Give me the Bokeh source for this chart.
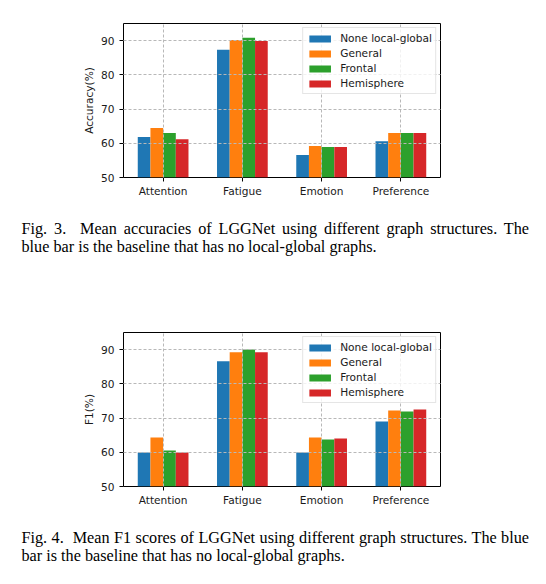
from bokeh.plotting import figure
from bokeh.models import (FactorRange, Range1d, FixedTicker, Legend, LegendItem,
                          ColumnDataSource, Div)
from bokeh.transform import dodge
from bokeh.layouts import column
from bokeh.embed import file_html
from bokeh.resources import INLINE

# ---------------- data ----------------
categories = ["Attention", "Fatigue", "Emotion", "Preference"]
series_names = ["None local-global", "General", "Frontal", "Hemisphere"]
colors = ["#1f77b4", "#ff7f0e", "#2ca02c", "#d62728"]

acc_none = [61.8, 87.3, 56.6, 60.6]
acc_general = [64.5, 90.2, 59.2, 63.0]
acc_frontal = [63.0, 90.8, 58.9, 63.0]
acc_hemisphere = [61.2, 89.9, 58.9, 63.0]

f1_none = [59.9, 86.6, 59.9, 69.0]
f1_general = [64.3, 89.2, 64.3, 72.2]
f1_frontal = [60.5, 90.0, 63.7, 71.9]
f1_hemisphere = [59.9, 89.2, 64.0, 72.5]

y_ticks = [50, 60, 70, 80, 90]

caption1_line1 = "Fig. 3.&nbsp; Mean accuracies of LGGNet using different graph structures. The"
caption1_line2 = "blue bar is the baseline that has no local-global graphs."
caption2_line1 = "Fig. 4.&nbsp; Mean F1 scores of LGGNet using different graph structures. The blue"
caption2_line2 = "bar is the baseline that has no local-global graphs."

FONT = "DejaVu Sans"
FS = "10.6px"
BAR_W = 0.16
OFFSETS = [-1.5 * BAR_W, -0.5 * BAR_W, 0.5 * BAR_W, 1.5 * BAR_W]


def make_chart(ylabel, values, height, top_border):
    src = ColumnDataSource(dict(cat=categories, s0=values[0], s1=values[1],
                                s2=values[2], s3=values[3]))
    p = figure(x_range=FactorRange(factors=categories), y_range=Range1d(50, 95),
               width=546, height=height,
               min_border_left=123, min_border_right=106,
               min_border_top=top_border,
               min_border_bottom=height - top_border - 154,
               output_backend="svg", toolbar_location=None, tools="")
    p.background_fill_color = "white"
    p.border_fill_color = "white"
    p.outline_line_color = "black"
    p.outline_line_width = 1

    items = []
    for k in range(4):
        r = p.vbar(x=dodge("cat", OFFSETS[k], range=p.x_range), top="s%d" % k,
                   bottom=0, width=BAR_W, source=src,
                   fill_color=colors[k], line_color=None)
        items.append(LegendItem(label=series_names[k], renderers=[r]))

    for ax in (p.xaxis, p.yaxis):
        ax.axis_line_color = None
        ax.major_tick_line_color = "black"
        ax.major_tick_out = 4
        ax.major_tick_in = 0
        ax.minor_tick_line_color = None
        ax.major_label_text_font = FONT
        ax.major_label_text_font_size = FS
        ax.major_label_text_color = "#1a1a1a"
    p.xaxis.major_label_standoff = 3
    p.yaxis.major_label_standoff = 5
    p.yaxis.ticker = FixedTicker(ticks=y_ticks)
    p.yaxis.axis_label = ylabel
    p.yaxis.axis_label_text_font = FONT
    p.yaxis.axis_label_text_font_size = FS
    p.yaxis.axis_label_text_font_style = "normal"
    p.yaxis.axis_label_text_color = "#1a1a1a"
    p.yaxis.axis_label_standoff = 3

    for g in (p.xgrid, p.ygrid):
        g.grid_line_color = "#b8b8b8"
        g.grid_line_width = 1
        g.grid_line_dash = "3 2"
        g.level = "guide"
    p.ygrid.ticker = FixedTicker(ticks=y_ticks)

    legend = Legend(items=items, location="top_right")
    legend.margin = 4
    legend.padding = 3
    legend.spacing = 1
    legend.glyph_width = 27
    legend.glyph_height = 9
    legend.label_height = 14
    legend.label_standoff = 7
    legend.label_text_font = FONT
    legend.label_text_font_size = FS
    legend.label_text_color = "#1a1a1a"
    legend.border_line_color = "#cccccc"
    legend.border_line_width = 1
    legend.background_fill_color = "white"
    legend.background_fill_alpha = 0.8
    p.add_layout(legend)
    return p


def caption(line1, line2, pad_top, height):
    html = (
        '<div style="box-sizing:content-box;margin:0;padding:%spx 0 0 21.5px;width:507.5px;'
        "font-family:'Liberation Serif';font-size:16.2px;line-height:18px;color:#000;\">"
        '<div style="text-align:justify;text-align-last:justify;word-spacing:-2px;">%s</div>'
        '<div style="text-align:left;">%s</div></div>'
    ) % (pad_top, line1, line2)
    return Div(text=html, width=546, height=height, margin=0)


fig1 = make_chart("Accuracy(%)", [acc_none, acc_general, acc_frontal, acc_hemisphere], 215, 23)
div1 = caption(caption1_line1, caption1_line2, 4.5, 95)
fig2 = make_chart("F1(%)", [f1_none, f1_general, f1_frontal, f1_hemisphere], 210, 22)
div2 = caption(caption2_line1, caption2_line2, 8.5, 64)

layout = column(fig1, div1, fig2, div2, spacing=0)

open("out.html", "w").write(file_html(layout, INLINE))
